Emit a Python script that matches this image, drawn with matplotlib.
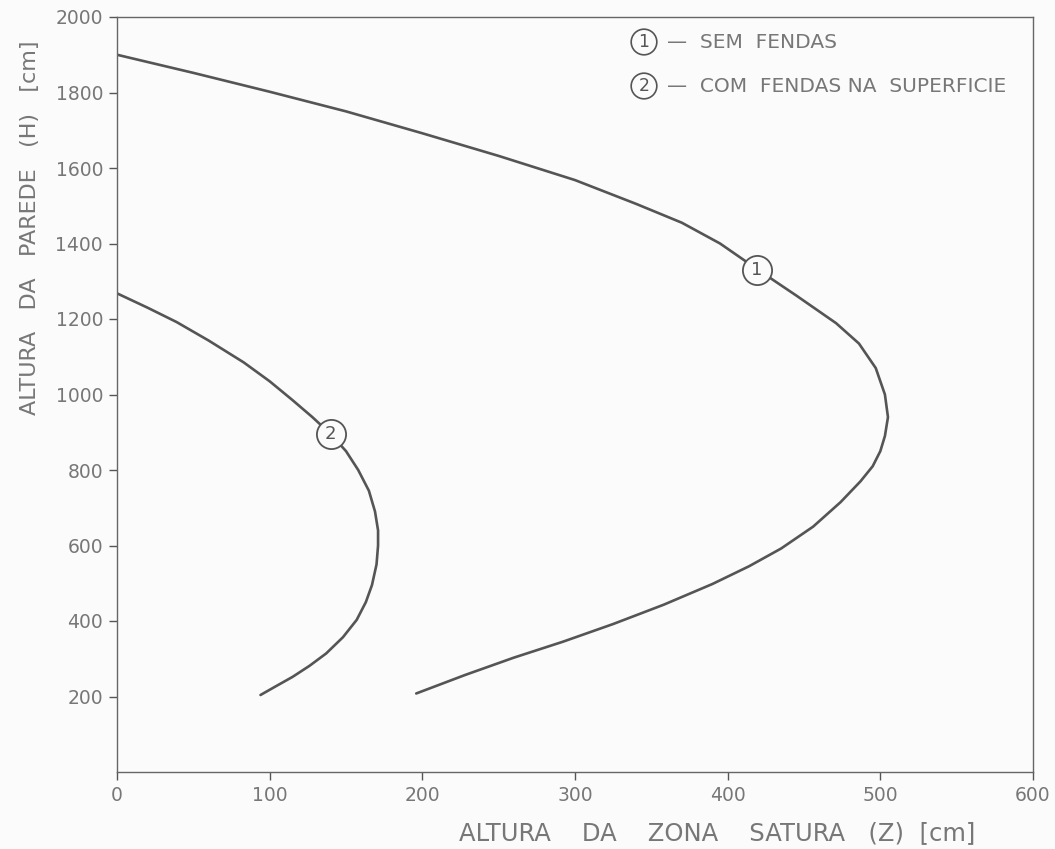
import matplotlib
matplotlib.use("Agg")
import matplotlib.pyplot as plt

# ---- data ----
# Curve 1 : sem fendas  (Z [cm], H [cm])
z1 = [0, 50, 100, 150, 200, 250, 300, 340, 370, 395, 420, 445, 471, 486,
      497, 503, 505, 503, 500, 495, 487, 474, 456, 435, 414, 390, 358, 325,
      292, 260, 228, 196]
h1 = [1900, 1852, 1802, 1750, 1692, 1632, 1568, 1505, 1455, 1400, 1330, 1262,
      1189, 1135, 1070, 1000, 940, 890, 850, 810, 770, 715, 650, 592, 545,
      498, 443, 392, 345, 303, 257, 208]
# Curve 2 : com fendas na superficie
z2 = [0, 20, 39, 60, 83, 100, 115, 128, 140, 150, 158, 165, 169, 171, 171,
      170, 167, 163, 157, 148, 137, 126, 115, 104, 94]
h2 = [1268, 1230, 1192, 1143, 1085, 1035, 985, 940, 895, 850, 800, 745, 690,
      640, 600, 550, 495, 450, 403, 357, 314, 281, 252, 227, 204]

curve_labels = ["1", "2"]
label_pos_z = [419, 140]
label_pos_h = [1330, 895]

legend_texts = ["SEM  FENDAS", "COM  FENDAS NA  SUPERFICIE"]

xticks = [0, 100, 200, 300, 400, 500, 600]
yticks = [200, 400, 600, 800, 1000, 1200, 1400, 1600, 1800, 2000]

xlabel = "ALTURA    DA    ZONA    SATURA   (Z)  [cm]"
ylabel = "ALTURA   DA   PAREDE   (H)   [cm]"

# ---- styling ----
W, H = 1055, 849
fig = plt.figure(figsize=(W / 100, H / 100), dpi=100)
bg = "#fbfbfb"
fig.patch.set_facecolor(bg)
ax = fig.add_axes([117 / W, 1 - 772 / H, (1033 - 117) / W, (772 - 17) / H])
ax.set_facecolor(bg)

line_c = "#555555"
text_c = "#777777"

ax.plot(z1, h1, color=line_c, lw=1.9, solid_capstyle="round",
        solid_joinstyle="round", zorder=2)
ax.plot(z2, h2, color=line_c, lw=1.9, solid_capstyle="round",
        solid_joinstyle="round", zorder=2)

for lab, zx, hy in zip(curve_labels, label_pos_z, label_pos_h):
    ax.plot([zx], [hy], marker="o", ms=21, mfc=bg, mec=line_c,
            mew=1.3, zorder=3)
    ax.text(zx, hy, lab, ha="center", va="center", fontsize=13,
            color=line_c, zorder=4)

ax.set_xlim(0, 600)
ax.set_ylim(0, 2000)
ax.set_xticks(xticks)
ax.set_yticks(yticks)
ax.set_xticklabels([str(v) for v in xticks])
ax.set_yticklabels([str(v) for v in yticks])
ax.tick_params(direction="out", length=6, width=1, colors=line_c,
               labelcolor=text_c, labelsize=13.5, pad=4)
for s in ax.spines.values():
    s.set_color("#666666")
    s.set_linewidth(1.0)

# axis titles (placed as in the reference, off-centre)
fig.text(30 / W, 1 - 228 / H, ylabel, rotation=90, ha="center", va="center",
         fontsize=16, color=text_c)
fig.text(717 / W, 1 - 833 / H, xlabel, ha="center", va="center",
         fontsize=17.5, color=text_c)

# legend block
leg_y = [42, 86]
for i, (lab, txt) in enumerate(zip(curve_labels, legend_texts)):
    yy = 1 - leg_y[i] / H
    fig.text(644 / W, yy, lab, ha="center", va="center", fontsize=12.5,
             color=line_c,
             bbox=dict(boxstyle="circle,pad=0.22", fc=bg, ec=line_c,
                       lw=1.2))
    fig.text(667 / W, yy, "\u2014  " + txt, ha="left", va="center",
             fontsize=14.5, color=text_c)

fig.savefig("out.png", dpi=100, facecolor=fig.get_facecolor())
